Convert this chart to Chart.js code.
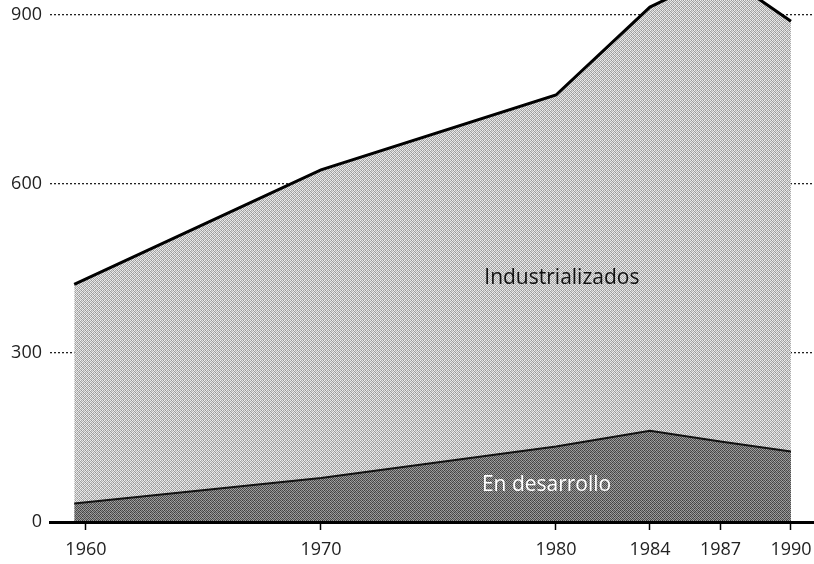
<!DOCTYPE html>
<html>
<head>
<meta charset="utf-8">
<script src="https://cdn.jsdelivr.net/npm/chart.js@4.4.1/dist/chart.umd.min.js"></script>
<style>
  html, body { margin: 0; padding: 0; background: #fff; }
  #wrap { width: 814px; height: 564px; }
</style>
</head>
<body>
<div id="wrap"><canvas id="chart"></canvas></div>
<script>
// values
const years = [1959.5, 1970, 1980, 1984, 1987, 1990];
const desarrollo = [33, 78, 134, 162, 143, 125];
const industrializados = [389, 547, 624, 752, 832, 764];
const xTicks = [1960, 1970, 1980, 1984, 1987, 1990];
const yTicks = [0, 300, 600, 900];
const areaLabels = [
  { text: 'Industrializados', x: 1980.25, y: 433, color: '#111' },
  { text: 'En desarrollo', x: 1979.6, y: 66, color: '#fff' }
];

// small halftone tile so the fills look like the printed screen
function halftone(shades) {
  const c = document.createElement('canvas');
  c.width = 4; c.height = 4;
  const g = c.getContext('2d');
  shades.forEach((v, i) => {
    g.fillStyle = `rgb(${v},${v},${v})`;
    g.fillRect(i % 4, Math.floor(i / 4), 1, 1);
  });
  return g.createPattern(c, 'repeat');
}

const lightFill = halftone([240, 170, 230, 150, 160, 220, 180, 235, 225, 150, 240, 170, 185, 235, 160, 215]);
const darkFill = halftone([80, 160, 60, 140, 150, 70, 170, 90, 65, 145, 80, 160, 160, 90, 140, 70]);

const areaText = {
  id: 'areaText',
  afterDatasetsDraw(chart) {
    const { ctx, scales: { x, y } } = chart;
    ctx.save();
    ctx.font = '21px "Open Sans"';
    ctx.textAlign = 'center';
    ctx.textBaseline = 'middle';
    areaLabels.forEach(l => {
      ctx.fillStyle = l.color;
      ctx.fillText(l.text, x.getPixelForValue(l.x), y.getPixelForValue(l.y));
    });
    ctx.restore();
  }
};

const font = { family: '"Open Sans"', size: 18 };

// plot runs right up to the canvas edges, so drop the label overhang padding
function noOverhang(s) {
  s.paddingTop = 0;
  s.paddingBottom = 0;
  s.paddingLeft = 0;
  s.paddingRight = 0;
}

new Chart(document.getElementById('chart'), {
  type: 'line',
  data: {
    datasets: [
      {
        label: 'En desarrollo',
        data: years.map((yr, i) => ({ x: yr, y: desarrollo[i] })),
        borderColor: '#111',
        borderWidth: 2,
        backgroundColor: darkFill,
        fill: 'origin',
        pointRadius: 0,
        tension: 0
      },
      {
        label: 'Industrializados',
        data: years.map((yr, i) => ({ x: yr, y: industrializados[i] })),
        borderColor: '#000',
        borderWidth: 3,
        backgroundColor: lightFill,
        fill: '-1',
        pointRadius: 0,
        tension: 0
      }
    ]
  },
  options: {
    responsive: true,
    maintainAspectRatio: false,
    animation: false,
    layout: { padding: 0 },
    plugins: {
      legend: { display: false },
      tooltip: { enabled: false }
    },
    scales: {
      x: {
        type: 'linear',
        position: 'bottom',
        min: 1958.47,
        max: 1990.98,
        afterBuildTicks: s => { s.ticks = xTicks.map(v => ({ value: v })); },
        afterFit: s => { s.height = 42; noOverhang(s); },
        ticks: {
          callback: v => String(v),
          color: '#222',
          font,
          padding: 9,
          maxRotation: 0,
          autoSkip: false
        },
        grid: {
          drawOnChartArea: false,
          drawTicks: true,
          tickLength: 8,
          tickWidth: 1.5,
          tickColor: '#000'
        },
        border: { display: true, color: '#000', width: 3, z: 1 }
      },
      y: {
        type: 'linear',
        stacked: true,
        min: 0,
        max: 926.6,
        afterBuildTicks: s => { s.ticks = yTicks.map(v => ({ value: v })); },
        afterFit: s => { s.width = 50; noOverhang(s); },
        ticks: {
          color: '#222',
          font,
          padding: 8
        },
        grid: {
          drawTicks: false,
          color: '#222',
          lineWidth: 1.3
        },
        border: { display: false, dash: [2, 2] }
      }
    }
  },
  plugins: [areaText]
});
</script>
</body>
</html>
